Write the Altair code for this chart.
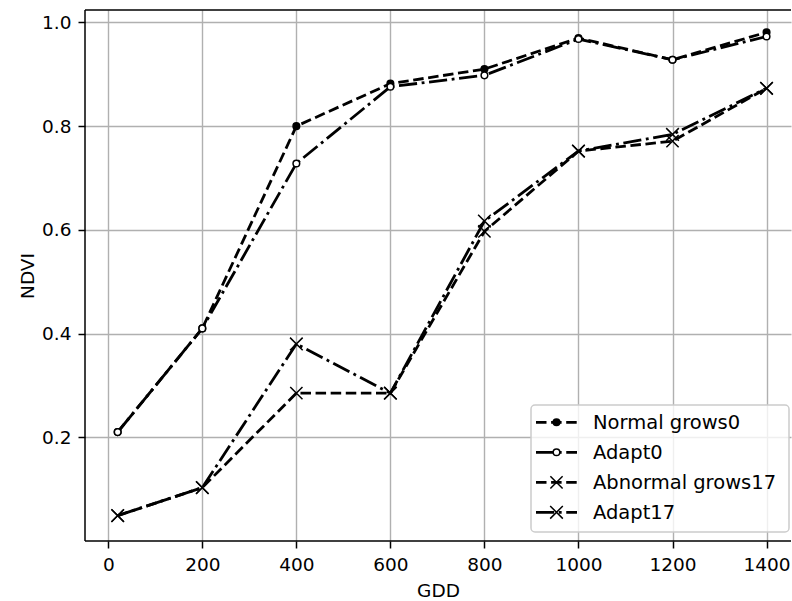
import altair as alt
import pandas as pd

# ---- data ----
gdd = [20, 200, 400, 600, 800, 1000, 1200, 1400]
series_names = ["Normal grows0", "Adapt0", "Abnormal grows17", "Adapt17"]
normal_grows0 = [0.21, 0.41, 0.80, 0.882, 0.91, 0.97, 0.928, 0.981]
adapt0 = [0.21, 0.41, 0.728, 0.876, 0.898, 0.968, 0.928, 0.973]
abnormal_grows17 = [0.049, 0.103, 0.285, 0.285, 0.597, 0.752, 0.771, 0.873]
adapt17 = [0.049, 0.103, 0.38, 0.285, 0.617, 0.752, 0.784, 0.873]
x_ticks = [0, 200, 400, 600, 800, 1000, 1200, 1400]
y_ticks = [0.2, 0.4, 0.6, 0.8, 1.0]

rows = []
for name, vals in zip(series_names, [normal_grows0, adapt0, abnormal_grows17, adapt17]):
    for g, v in zip(gdd, vals):
        rows.append({"series": name, "GDD": g, "NDVI": v})
df = pd.DataFrame(rows)
legend_df = pd.DataFrame({"series": series_names})

FONT = "DejaVu Sans"
FS = 18.5
LEG_FS = 19.5
W, H = 706, 531
X_PATH = "M-1,-1L1,1M-1,1L1,-1"
DASH = [10.5, 4.6]
DASHDOT = [18.2, 4.6, 2.85, 4.6]

dash_scale = alt.Scale(domain=series_names, range=[DASH, DASHDOT, DASH, DASHDOT])
shape_scale = alt.Scale(domain=series_names, range=["circle", "circle", X_PATH, X_PATH])
fill_scale = alt.Scale(domain=series_names, range=["black", "white", "transparent", "transparent"])
size_scale = alt.Scale(type="ordinal", domain=series_names, range=[44, 44, 150, 160])

axis_common = dict(
    tickColor="black", tickWidth=1.5, tickSize=7,
    labelFont=FONT, labelFontSize=FS, labelColor="black",
    titleFont=FONT, titleFontSize=FS, titleFontWeight="normal", titleColor="black",
    grid=True, gridColor="#b0b0b0", gridWidth=1.4,
)

x_enc = alt.X("GDD:Q",
              scale=alt.Scale(domain=[-49.5, 1452], nice=False, zero=False),
              axis=alt.Axis(values=x_ticks, format="d", title="GDD",
                            domain=False, labelPadding=7, titlePadding=8, **axis_common))
y_enc = alt.Y("NDVI:Q",
              scale=alt.Scale(domain=[0, 1.024], nice=False, zero=False),
              axis=alt.Axis(values=y_ticks, format=".1f", title="NDVI",
                            domain=False, labelPadding=7, titlePadding=4, **axis_common))

dash_enc = alt.StrokeDash("series:N", scale=dash_scale, legend=None)
shape_enc = alt.Shape("series:N", scale=shape_scale, legend=None)
fill_enc = alt.Fill("series:N", scale=fill_scale, legend=None)
size_enc = alt.Size("series:N", scale=size_scale, legend=None)

base = alt.Chart(df)
lines = base.mark_line(color="black", strokeWidth=2.8).encode(
    x=x_enc, y=y_enc, strokeDash=dash_enc, detail="series:N",
)
points = base.mark_point(stroke="black", strokeWidth=1.5, opacity=1).encode(
    x=x_enc, y=y_enc, shape=shape_enc, fill=fill_enc, size=size_enc,
)

# spines: top, bottom, left (the right one lies outside the picture)
one = alt.Chart(legend_df.head(1))
spines = [
    one.mark_rule(color="black", strokeWidth=1.5).encode(x=alt.value(0), x2=alt.value(W), y=alt.value(0)),
    one.mark_rule(color="black", strokeWidth=1.5).encode(x=alt.value(0), x2=alt.value(W), y=alt.value(H)),
    one.mark_rule(color="black", strokeWidth=1.5).encode(x=alt.value(0), y=alt.value(0), y2=alt.value(H)),
]

# ---- legend (drawn as layers, one row per series) ----
layers = [lines, points] + spines
box = one.mark_rect(
    fill="white", fillOpacity=0.8, stroke="#cccccc", strokeWidth=1.5, cornerRadius=4
).encode(x=alt.value(446), x2=alt.value(704), y=alt.value(395), y2=alt.value(522))
layers.append(box)
ROW0, ROWSTEP = 412.3, 30.0
for i, name in enumerate(series_names):
    row = alt.Chart(legend_df).transform_filter(alt.datum.series == name)
    yv = alt.value(ROW0 + ROWSTEP * i)
    layers.append(row.mark_rule(color="black", strokeWidth=2.8).encode(
        x=alt.value(451), x2=alt.value(492), y=yv, strokeDash=dash_enc))
    layers.append(row.mark_point(stroke="black", strokeWidth=1.5, opacity=1).encode(
        x=alt.value(471.5), y=yv, shape=shape_enc, fill=fill_enc, size=size_enc))
    layers.append(row.mark_text(
        align="left", baseline="alphabetic", dy=6.8, font=FONT, fontSize=LEG_FS, color="black"
    ).encode(x=alt.value(508), y=yv, text="series:N"))

chart = alt.layer(*layers).properties(
    width=W, height=H,
    padding={"left": 85, "top": 10, "right": 1, "bottom": 60},
    autosize=alt.AutoSizeParams(type="none"),
    background="white",
).configure_view(strokeWidth=0, stroke="transparent")

chart.save("out.html", embed_options={"renderer": "svg", "actions": False})
